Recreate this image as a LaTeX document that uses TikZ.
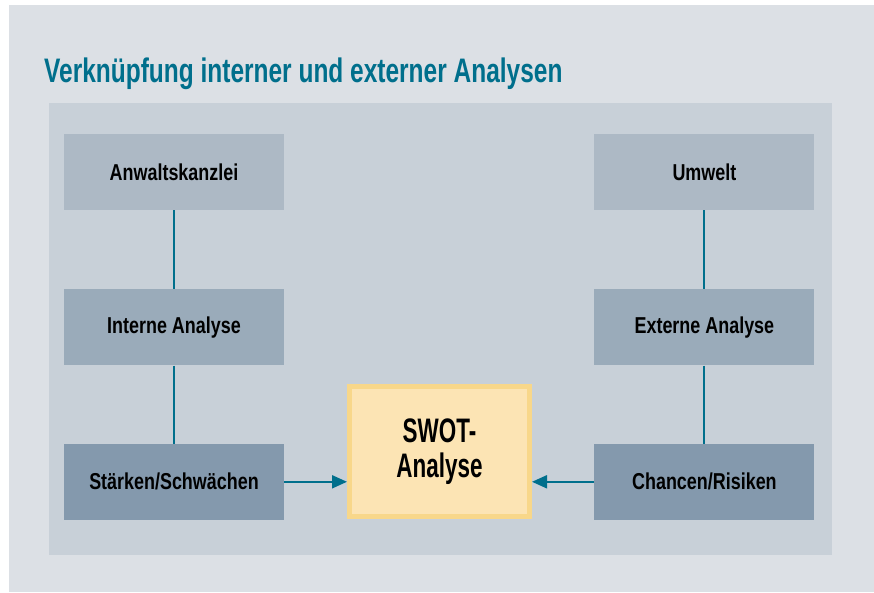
\documentclass[tikz,border=0pt]{standalone}
\usepackage{fontspec}
\newfontfamily\titlefont[FakeStretch=0.72]{Liberation Sans}
\newfontfamily\boxfont[FakeStretch=0.78]{Liberation Sans}
\newfontfamily\swotfont[FakeStretch=0.66]{Liberation Sans}
\usetikzlibrary{positioning, arrows.meta}

\definecolor{outerbg}{HTML}{DCE0E5}
\definecolor{panelbg}{HTML}{C8D0D8}
\definecolor{rowtop}{HTML}{ADB9C5}
\definecolor{rowmid}{HTML}{9AABBA}
\definecolor{rowlow}{HTML}{8499AD}
\definecolor{linkteal}{HTML}{006F8C}
\definecolor{swotfill}{HTML}{FCE4B4}
\definecolor{swotline}{HTML}{F8D78A}

\begin{document}
\begin{tikzpicture}[
    x=1pt, y=-1pt,
    block/.style={rectangle, inner sep=0pt, minimum width=220pt, minimum height=76pt,
        font=\boxfont\bfseries\fontsize{23}{26}\selectfont},
    swotbox/.style={rectangle, draw=swotline, line width=5pt, fill=swotfill, inner sep=0pt,
        minimum width=180pt, minimum height=130pt, align=center,
        font=\swotfont\bfseries\fontsize{34}{35}\selectfont},
    link/.style={draw=linkteal, line width=2pt},
    pointer/.style={link, -{Triangle[length=15pt, width=13pt]}}
]
    \useasboundingbox (0,0) rectangle (874,592);
    \fill[outerbg] (9,5) rectangle (874,592);
    \fill[panelbg] (49,103) rectangle (832,555);

    \node[anchor=base west, inner sep=0pt, text=linkteal,
        font=\titlefont\bfseries\fontsize{34}{38}\selectfont] (title) at (44,82)
        {Verknüpfung interner und externer Analysen};

    % interne Seite
    \node[block, fill=rowtop] (kanzlei) at (174,172) {Anwaltskanzlei};
    \node[block, fill=rowmid, below=79pt of kanzlei] (intern) {Interne Analyse};
    \node[block, fill=rowlow, below=78pt of intern] (staerken) {Stärken/Schwächen};

    % externe Seite
    \node[block, fill=rowtop, right=310pt of kanzlei] (umwelt) {Umwelt};
    \node[block, fill=rowmid, below=79pt of umwelt] (extern) {Externe Analyse};
    \node[block, fill=rowlow, below=78pt of extern] (chancen) {Chancen/Risiken};

    \node[swotbox] (swot) at (439.5,451.5) {SWOT-\\Analyse};

    \draw[link] (kanzlei) -- (intern);
    \draw[link] (intern) -- (staerken);
    \draw[link] (umwelt) -- (extern);
    \draw[link] (extern) -- (chancen);

    \draw[pointer] (staerken.east) -- (staerken.east -| swot.west);
    \draw[pointer] (chancen.west) -- (chancen.west -| swot.east);
\end{tikzpicture}
\end{document}
